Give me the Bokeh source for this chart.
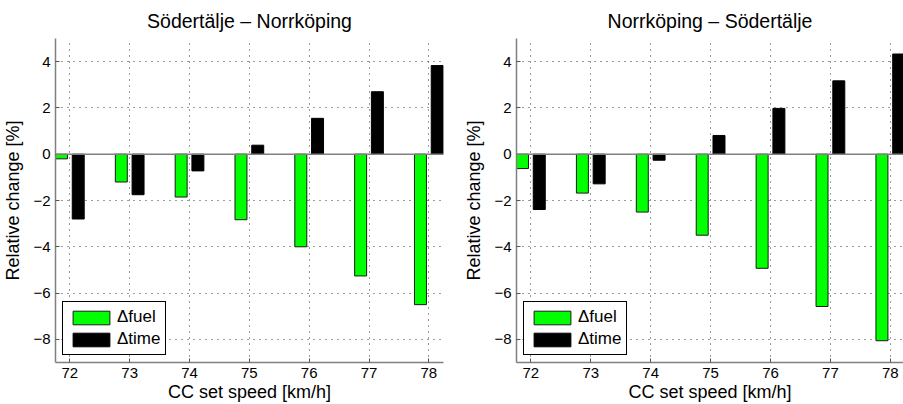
from bokeh.plotting import figure
from bokeh.layouts import row
from bokeh.models import FixedTicker, Span, Legend, LegendItem, ColumnDataSource, Range1d
from bokeh.transform import dodge
from bokeh.embed import file_html
from bokeh.resources import INLINE

# ---- data ----
speeds = [72, 73, 74, 75, 76, 77, 78]
sn_fuel = [-0.20, -1.20, -1.85, -2.83, -4.00, -5.26, -6.50]
sn_time = [-2.80, -1.75, -0.72, 0.39, 1.55, 2.70, 3.83]
ns_fuel = [-0.62, -1.68, -2.50, -3.50, -4.93, -6.58, -8.06]
ns_time = [-2.39, -1.28, -0.26, 0.81, 1.98, 3.17, 4.33]
y_ticks = [-8, -6, -4, -2, 0, 2, 4]
titles = ["Södertälje – Norrköping", "Norrköping – Södertälje"]
legend_labels = ["Δfuel", "Δtime"]
x_label = "CC set speed [km/h]"
y_label = "Relative change [%]"

FONT = "Liberation Sans"
AXIS_GRAY = "#808080"


def make_panel(title, fuel, time, x_end, frame_w, mbl, mbr, title_offset):
    src = ColumnDataSource(dict(x=speeds, fuel=fuel, time=time))
    p = figure(width=mbl + frame_w + mbr, height=404,
               x_range=Range1d(71.76, x_end), y_range=Range1d(-9, 5),
               output_backend="svg", toolbar_location=None,
               min_border_left=mbl, min_border_right=mbr,
               min_border_top=38, min_border_bottom=42, title=title)
    p.outline_line_color = None
    p.background_fill_color = "white"
    p.border_fill_color = "white"

    p.title.align = "center"
    p.title.text_font = FONT
    p.title.text_font_size = "19.5px"
    p.title.text_font_style = "normal"
    p.title.text_color = "#000000"
    p.title.standoff = 14
    p.title.offset = title_offset

    r1 = p.vbar(x=dodge("x", -0.14, range=p.x_range), top="fuel", bottom=0, width=0.2,
                source=src, fill_color="#00ff00", line_color="#1a1a1a", line_width=1)
    r2 = p.vbar(x=dodge("x", 0.14, range=p.x_range), top="time", bottom=0, width=0.2,
                source=src, fill_color="#000000", line_color="#000000", line_width=1)

    p.add_layout(Span(location=0, dimension="width", line_color=AXIS_GRAY, line_width=1.5))

    p.xaxis.ticker = FixedTicker(ticks=speeds)
    p.yaxis.ticker = FixedTicker(ticks=y_ticks)
    p.yaxis.major_label_overrides = {v: str(v).replace("-", "\u2212") for v in y_ticks}
    for ax in (p.xaxis, p.yaxis):
        ax.axis_line_color = AXIS_GRAY
        ax.axis_line_width = 1.5
        ax.major_tick_in = 4
        ax.major_tick_out = 0
        ax.minor_tick_in = 0
        ax.minor_tick_out = 0
        ax.major_tick_line_color = "#555555"
        ax.major_label_text_font = FONT
        ax.major_label_text_font_size = "15px"
        ax.major_label_text_color = "#000000"
        ax.axis_label_text_font = FONT
        ax.axis_label_text_font_size = "18px"
        ax.axis_label_text_font_style = "normal"
        ax.axis_label_text_color = "#000000"
    p.xaxis.major_label_standoff = 5
    p.xaxis.axis_label_standoff = 1
    p.yaxis.major_label_standoff = 5
    p.yaxis.axis_label_standoff = 7
    p.xaxis.axis_label = x_label
    p.yaxis.axis_label = y_label

    p.xgrid.ticker = FixedTicker(ticks=speeds)
    p.ygrid.ticker = FixedTicker(ticks=y_ticks)
    for g in (p.xgrid, p.ygrid):
        g.grid_line_color = "#222222"
        g.grid_line_dash = "1 5"
        g.grid_line_alpha = 0.9
        g.grid_line_width = 1

    legend = Legend(items=[LegendItem(label=legend_labels[0], renderers=[r1]),
                           LegendItem(label=legend_labels[1], renderers=[r2])],
                    location="bottom_left")
    legend.border_line_color = "#000000"
    legend.border_line_width = 1
    legend.border_line_alpha = 1
    legend.background_fill_color = "white"
    legend.background_fill_alpha = 1
    legend.label_text_font = FONT
    legend.label_text_font_size = "17px"
    legend.label_text_color = "#000000"
    legend.glyph_width = 46
    legend.glyph_height = 17
    legend.label_height = 17
    legend.padding = 5
    legend.spacing = 2
    legend.label_standoff = 3
    legend.margin = 7
    p.add_layout(legend)
    return p


left = make_panel(titles[0], sn_fuel, sn_time, 78.245, 389, 54, 5, 0)
right = make_panel(titles[1], ns_fuel, ns_time, 78.22, 387, 68, 0, 0)

layout = row(left, right)
open("out.html", "w").write(file_html(layout, INLINE))
